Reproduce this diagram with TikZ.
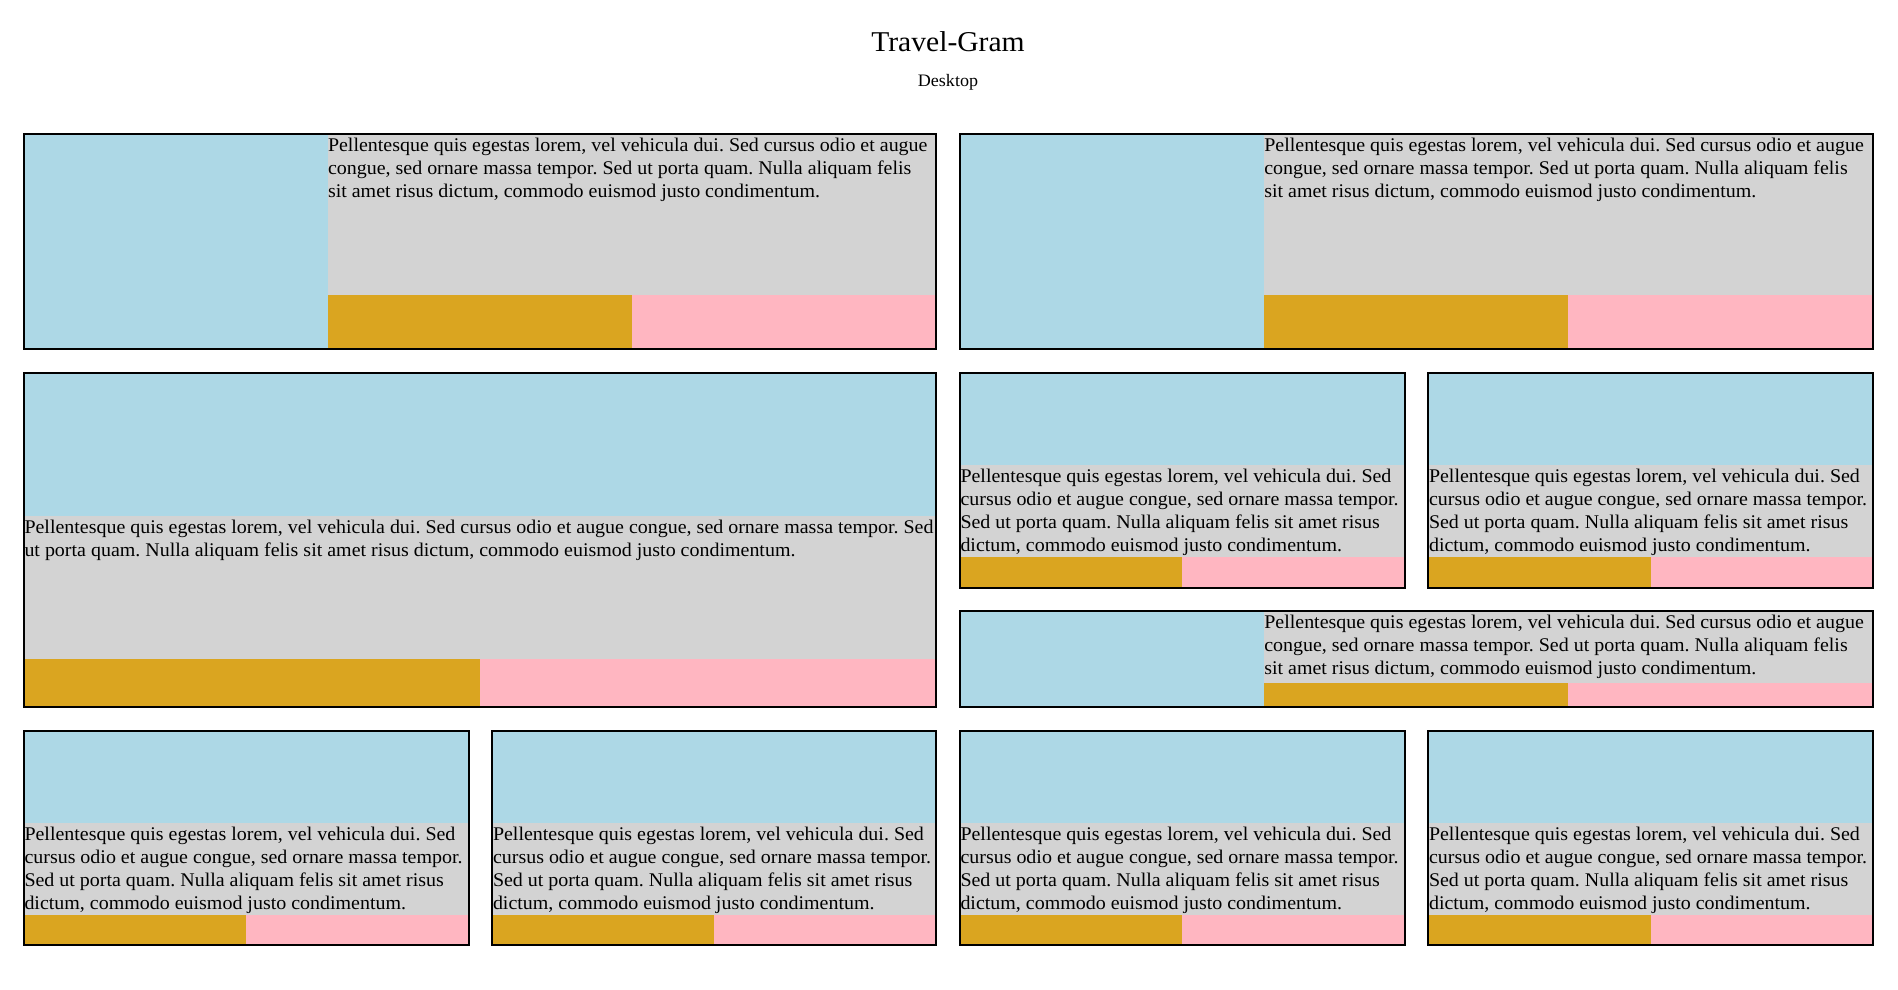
\documentclass[tikz,border=0pt]{standalone}
\usepackage{fontspec}
\setmainfont[FakeStretch=1.031]{Liberation Serif}
\frenchspacing
\definecolor{imgc}{HTML}{ADD8E6}
\definecolor{txtc}{HTML}{D3D3D3}
\definecolor{goldc}{HTML}{DAA520}
\definecolor{pinkc}{HTML}{FFB6C1}
\newcommand{\bodyfont}{\fontsize{19.37}{23}\selectfont}
\newcommand{\firststrut}{\rule{0pt}{17.3pt}}
\newcommand{\txtwide}{\firststrut Pellentesque quis egestas lorem, vel vehicula dui. Sed cursus odio et augue\\congue, sed ornare massa tempor. Sed ut porta quam. Nulla aliquam felis\\sit amet risus dictum, commodo euismod justo condimentum.}
\newcommand{\txtfull}{\firststrut Pellentesque quis egestas lorem, vel vehicula dui. Sed cursus odio et augue congue, sed ornare massa tempor. Sed\\ut porta quam. Nulla aliquam felis sit amet risus dictum, commodo euismod justo condimentum.}
\newcommand{\txtsmall}{\firststrut Pellentesque quis egestas lorem, vel vehicula dui. Sed\\cursus odio et augue congue, sed ornare massa tempor.\\Sed ut porta quam. Nulla aliquam felis sit amet risus\\dictum, commodo euismod justo condimentum.}
\tikzset{
  bodytext/.style={anchor=north west, inner sep=0pt, outer sep=0pt, align=left, font=\bodyfont},
  cardborder/.style={draw=black, line width=2pt},
}
% horizontal card: x0 y0 x1 y1 (inner), image right edge, gold top, text, name
\newcommand{\hcardbox}[8]{%
  \fill[imgc] (#1,#2) rectangle (#5,#4);
  \fill[txtc] (#5,#2) rectangle (#3,#6);
  \fill[goldc] (#5,#6) rectangle ({(#5+#3)/2},#4);
  \fill[pinkc] ({(#5+#3)/2},#6) rectangle (#3,#4);
  \node[bodytext] (#8) at (#5,#2) {#7};
  \draw[cardborder] (#1-1,#2-1) rectangle (#3+1,#4+1);
}
% vertical card: x0 y0 x1 y1 (inner), image bottom edge, gold top, text, name
\newcommand{\vcardbox}[8]{%
  \fill[imgc] (#1,#2) rectangle (#3,#5);
  \fill[txtc] (#1,#5) rectangle (#3,#6);
  \fill[goldc] (#1,#6) rectangle ({(#1+#3)/2},#4);
  \fill[pinkc] ({(#1+#3)/2},#6) rectangle (#3,#4);
  \node[bodytext] (#8) at (#1,#5) {#7};
  \draw[cardborder] (#1-1,#2-1) rectangle (#3+1,#4+1);
}
\begin{document}
\begin{tikzpicture}[x=1pt,y=-1pt]
\useasboundingbox[fill=white] (0,0) rectangle (1898,990);
\node[anchor=base, inner sep=0pt, font=\fontsize{28.7}{34}\selectfont] (title) at (948,51.7) {Travel-Gram};
\node[anchor=base, inner sep=0pt, font=\fontsize{17.5}{21}\selectfont] (subtitle) at (948,86.7) {Desktop};
% row 1
\hcardbox{24.5}{134.5}{935}{348}{328}{295}{\txtwide}{ta}
\hcardbox{960.5}{134.5}{1872}{348}{1264.3}{295}{\txtwide}{tb}
% row 2
\vcardbox{24.5}{374}{935}{706}{515.7}{659}{\txtfull}{tc}
\vcardbox{960.5}{374}{1403.5}{586.5}{465.3}{557}{\txtsmall}{td}
\vcardbox{1429}{374}{1872}{586.5}{465.3}{557}{\txtsmall}{te}
\hcardbox{960.5}{611.5}{1872}{706}{1264.3}{683}{\txtwide}{tf}
% row 3
\vcardbox{24.5}{732}{467.5}{944}{823.3}{915}{\txtsmall}{tg}
\vcardbox{493}{732}{935}{944}{823.3}{915}{\txtsmall}{th}
\vcardbox{960.5}{732}{1403.5}{944}{823.3}{915}{\txtsmall}{ti}
\vcardbox{1429}{732}{1872}{944}{823.3}{915}{\txtsmall}{tj}
\end{tikzpicture}
\end{document}
